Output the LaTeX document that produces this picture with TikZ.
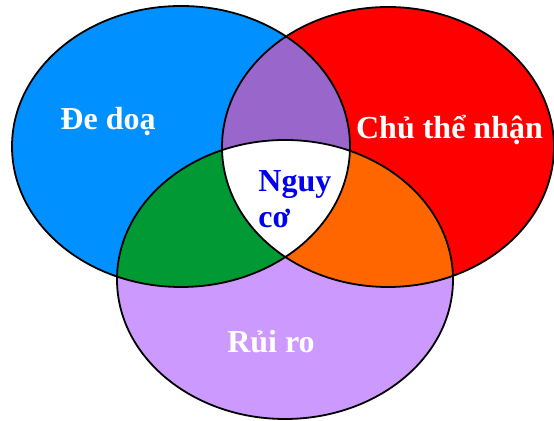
\documentclass[tikz,border=0pt]{standalone}
\usepackage{fontspec}
\setmainfont{Liberation Serif}
\definecolor{vnblue}{RGB}{0,144,255}
\definecolor{vnred}{RGB}{255,0,0}
\definecolor{vnlilac}{RGB}{204,153,255}
\definecolor{vnpurple}{RGB}{153,102,204}
\definecolor{vngreen}{RGB}{0,153,51}
\definecolor{vnorange}{RGB}{255,102,0}
\definecolor{vntext}{RGB}{0,0,240}

\begin{document}
\begin{tikzpicture}[x=0.5pt, y=-0.5pt, every node/.style={font=\fontsize{16}{18}\selectfont\bfseries, inner sep=0pt}]
\useasboundingbox (0,0) rectangle (554,421);
\def\threat{(181,146.5) ellipse [x radius=169, y radius=140.5]}
\def\target{(388,147) ellipse [x radius=166, y radius=140]}
\def\risk{(285,279.5) ellipse [x radius=168, y radius=139.5]}
% sets
\fill[vnblue] \threat;
\fill[vnred] \target;
\fill[vnlilac] \risk;
% overlaps
\begin{scope}
  \clip \threat;
  \fill[vnpurple] \target;
  \fill[vngreen] \risk;
\end{scope}
\begin{scope}
  \clip \target;
  \fill[vnorange] \risk;
\end{scope}
\begin{scope}
  \clip \threat;
  \clip \target;
  \fill[white] \risk;
\end{scope}
\draw[line width=0.9pt] \threat \target \risk;
% labels
\node[white, anchor=base] (threatlbl) at (108,130) {Đe doạ};
\node[white, anchor=base] (targetlbl) at (449.5,139) {Chủ thể nhận};
\node[white, anchor=base] (risklbl) at (271,353) {Rủi ro};
\node[vntext, anchor=base west, align=left] (hazardlbl) at (258,228) {Nguy\\cơ};
\end{tikzpicture}
\end{document}
